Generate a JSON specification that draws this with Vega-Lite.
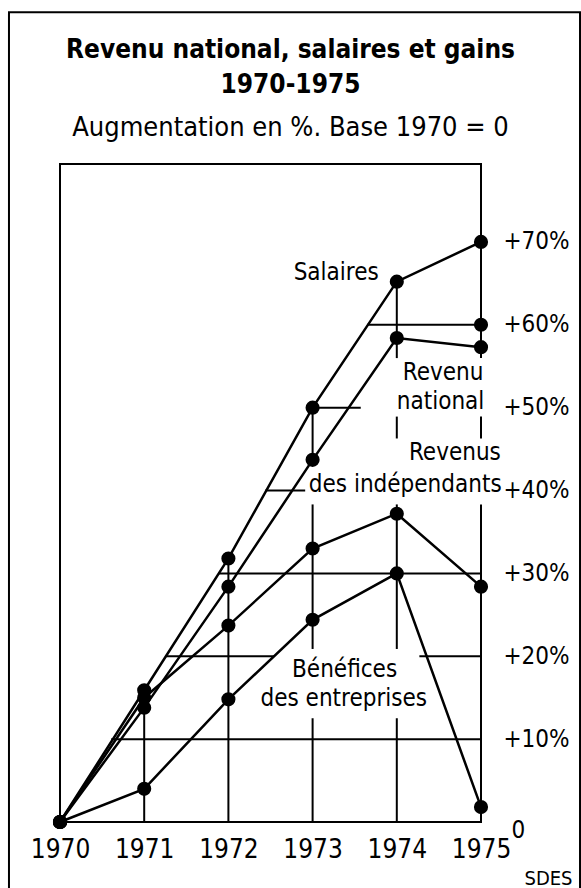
{
  "$schema": "https://vega.github.io/schema/vega-lite/v6.json",
  "width": 421,
  "height": 658,
  "autosize": {"type": "none"},
  "padding": {"left": 60, "top": 164, "right": 100, "bottom": 66},
  "background": "white",
  "config": {
    "view": {"stroke": null},
    "font": "'DejaVu Sans Condensed', 'Liberation Sans', sans-serif"
  },
  "title": {
    "text": ["Revenu national, salaires et gains", "1970-1975"],
    "subtitle": "Augmentation en %. Base 1970 = 0",
    "anchor": "middle",
    "dx": 20,
    "offset": -130,
    "fontSize": 26,
    "fontWeight": "bold",
    "lineHeight": 35,
    "color": "black",
    "subtitleFontSize": 27,
    "subtitleColor": "black",
    "subtitlePadding": 17
  },
  "datasets": {
    "series": [
      {"series": "Salaires", "year": 1970, "value": 0},
      {"series": "Salaires", "year": 1971, "value": 15.9},
      {"series": "Salaires", "year": 1972, "value": 31.8},
      {"series": "Salaires", "year": 1973, "value": 50},
      {"series": "Salaires", "year": 1974, "value": 65.2},
      {"series": "Salaires", "year": 1975, "value": 70},
      {"series": "Revenu national", "year": 1970, "value": 0},
      {"series": "Revenu national", "year": 1971, "value": 13.8},
      {"series": "Revenu national", "year": 1972, "value": 28.4},
      {"series": "Revenu national", "year": 1973, "value": 43.7},
      {"series": "Revenu national", "year": 1974, "value": 58.4},
      {"series": "Revenu national", "year": 1975, "value": 57.3},
      {"series": "Revenus des indépendants", "year": 1970, "value": 0},
      {"series": "Revenus des indépendants", "year": 1971, "value": 15.0},
      {"series": "Revenus des indépendants", "year": 1972, "value": 23.7},
      {"series": "Revenus des indépendants", "year": 1973, "value": 33.0},
      {"series": "Revenus des indépendants", "year": 1974, "value": 37.2},
      {"series": "Revenus des indépendants", "year": 1975, "value": 28.4},
      {"series": "Bénéfices des entreprises", "year": 1970, "value": 0},
      {"series": "Bénéfices des entreprises", "year": 1971, "value": 4.0},
      {"series": "Bénéfices des entreprises", "year": 1972, "value": 14.8},
      {"series": "Bénéfices des entreprises", "year": 1973, "value": 24.4},
      {"series": "Bénéfices des entreprises", "year": 1974, "value": 30.0},
      {"series": "Bénéfices des entreprises", "year": 1975, "value": 1.8}
    ],
    "markers": [
      {"year": 1975, "value": 60}
    ],
    "segments": [
      {"year": 1970, "year2": 1970, "value": 0, "value2": 79.4},
      {"year": 1970, "year2": 1975, "value": 79.4, "value2": 79.4},
      {"year": 1970, "year2": 1975, "value": 0, "value2": 0},
      {"year": 1970.62, "year2": 1975, "value": 10, "value2": 10},
      {"year": 1971.26, "year2": 1972.53, "value": 20, "value2": 20},
      {"year": 1974.28, "year2": 1975, "value": 20, "value2": 20},
      {"year": 1971.89, "year2": 1975, "value": 30, "value2": 30},
      {"year": 1972.45, "year2": 1972.9, "value": 40, "value2": 40},
      {"year": 1973, "year2": 1973.56, "value": 50, "value2": 50},
      {"year": 1973.66, "year2": 1975, "value": 60, "value2": 60},
      {"year": 1971, "year2": 1971, "value": 0, "value2": 15.9},
      {"year": 1972, "year2": 1972, "value": 0, "value2": 31.8},
      {"year": 1973, "year2": 1973, "value": 0, "value2": 12.4},
      {"year": 1973, "year2": 1973, "value": 21, "value2": 38.2},
      {"year": 1973, "year2": 1973, "value": 43.7, "value2": 50},
      {"year": 1974, "year2": 1974, "value": 0, "value2": 12.4},
      {"year": 1974, "year2": 1974, "value": 21, "value2": 38.2},
      {"year": 1974, "year2": 1974, "value": 46.4, "value2": 48.8},
      {"year": 1974, "year2": 1974, "value": 56.1, "value2": 65.2},
      {"year": 1975, "year2": 1975, "value": 0, "value2": 38.2},
      {"year": 1975, "year2": 1975, "value": 46.4, "value2": 48.8},
      {"year": 1975, "year2": 1975, "value": 56.1, "value2": 79.4}
    ],
    "border": [
      {"year": 1969.394, "year2": 1976.176, "value": 97.7, "value2": -10}
    ],
    "labels": [
      {"label": "Salaires", "year": 1973.28, "value": 66.2},
      {"label": "Revenu", "year": 1974.55, "value": 54.2},
      {"label": "national", "year": 1974.52, "value": 50.7},
      {"label": "Revenus", "year": 1974.69, "value": 44.5},
      {"label": "des indépendants", "year": 1974.10, "value": 40.7},
      {"label": "Bénéfices", "year": 1973.38, "value": 18.4},
      {"label": "des entreprises", "year": 1973.37, "value": 14.8}
    ]
  },
  "encoding": {
    "x": {
      "field": "year", "type": "quantitative",
      "scale": {"domain": [1970, 1975], "nice": false, "zero": false},
      "axis": {
        "values": [1970, 1971, 1972, 1973, 1974, 1975],
        "format": "d",
        "labelFontSize": 26,
        "labelColor": "black",
        "labelPadding": 14,
        "ticks": false,
        "tickSize": 0,
        "domain": false,
        "grid": false,
        "labelFlush": false,
        "labelOverlap": false,
        "title": "SDES",
        "titleFontSize": 20,
        "titleFontWeight": "normal",
        "titleColor": "black",
        "titleX": 488,
        "titleY": 56,
        "titleAlign": "center",
        "titleBaseline": "middle"
      }
    },
    "y": {
      "field": "value", "type": "quantitative",
      "scale": {"domain": [0, 79.4], "nice": false, "zero": false},
      "axis": {
        "orient": "right",
        "values": [0, 10, 20, 30, 40, 50, 60, 70],
        "labelExpr": "datum.value == 0 ? '0' : '+' + datum.value + '%'",
        "labelFontSize": 24,
        "labelColor": "black",
        "labelAlign": "left",
        "labelBaseline": "middle",
        "labelPadding": {"condition": {"test": "datum.value === 0", "value": 30}, "value": 22},
        "labelOffset": {"condition": {"test": "datum.value === 0", "value": 8}, "value": 0},
        "ticks": false,
        "tickSize": 0,
        "domain": false,
        "grid": false,
        "labelFlush": false,
        "labelOverlap": false,
        "title": null
      }
    }
  },
  "layer": [
    {
      "data": {"name": "border"},
      "mark": {"type": "rect", "filled": false, "stroke": "black", "strokeWidth": 2},
      "encoding": {
        "x2": {"field": "year2"},
        "y2": {"field": "value2"}
      }
    },
    {
      "data": {"name": "segments"},
      "mark": {"type": "rule", "color": "black", "strokeWidth": 2, "strokeCap": "square"},
      "encoding": {
        "x2": {"field": "year2"},
        "y2": {"field": "value2"}
      }
    },
    {
      "data": {"name": "series"},
      "mark": {"type": "line", "color": "black", "strokeWidth": 2.5},
      "encoding": {
        "detail": {"field": "series"}
      }
    },
    {
      "data": {"name": "series"},
      "mark": {"type": "circle", "color": "black", "size": 200, "opacity": 1},
      "encoding": {}
    },
    {
      "data": {"name": "markers"},
      "mark": {"type": "circle", "color": "black", "size": 200, "opacity": 1},
      "encoding": {}
    },
    {
      "data": {"name": "labels"},
      "mark": {"type": "text", "color": "black", "fontSize": 24, "align": "center", "baseline": "middle"},
      "encoding": {
        "text": {"field": "label"}
      }
    }
  ]
}
